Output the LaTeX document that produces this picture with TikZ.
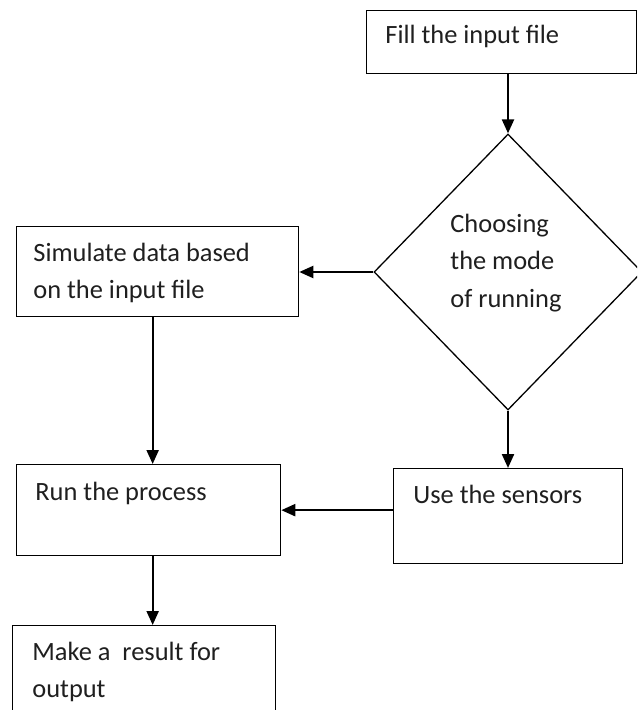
\documentclass[tikz,border=0pt]{standalone}
\usepackage{fontspec}
\setmainfont{Carlito}
\usetikzlibrary{arrows.meta,shapes.geometric}

\tikzset{
  box/.style={draw, rectangle, anchor=north west, inner sep=0pt, line width=0.65pt},
  decide/.style={draw, diamond, inner sep=0pt, line width=0.65pt},
  txt/.style={anchor=base west, inner sep=0pt, align=left, font=\fontsize{13.2}{18.5}\selectfont, text=black!88},
  flow/.style={-{Triangle[length=7pt,width=6pt]}, line width=1.1pt}
}

\begin{document}
\begin{tikzpicture}[x=0.5pt,y=-0.5pt]
\clip (0,0) rectangle (637,710);
\fill[white] (0,0) rectangle (637,710);
     \node[box, minimum width=135pt, minimum height=31.5pt] (fill) at (366,10) {};
     \node[decide, minimum width=134pt, minimum height=138pt] (choose) at (508,272) {};
     \node[box, minimum width=141pt, minimum height=45pt] (sim) at (16,226) {};
     \node[box, minimum width=132pt, minimum height=45.5pt] (run) at (16,464) {};
     \node[box, minimum width=114.5pt, minimum height=47.5pt] (sensors) at (393,468) {};
     \node[box, minimum width=131.5pt, minimum height=55pt] (result) at (12,625) {};

     % base of a multi-line node is its last line
     \node[txt] (fillt) at (385,44) {Fill the input file};
     \node[txt] (chooset) at (450,307) {Choosing\\the mode\\of running};
     \node[txt] (simt) at (33,299) {Simulate data based\\on the input file};
     \node[txt] (runt) at (35,500) {Run the process};
     \node[txt] (sensorst) at (413,503) {Use the sensors};
     \node[txt] (resultt) at (32,697) {Make a\ \ result for\\output};

     \draw[flow] (fill.south -| choose.north) -- (choose.north);
     \draw[flow] (choose.west) -- (choose.west -| sim.east);
     \draw[flow] ([xshift=-2.5pt]sim.south) -- ([xshift=-2.5pt]sim.south |- run.north);
     \draw[flow] (choose.south) -- (choose.south |- sensors.north);
     \draw[flow] (sensors.west |- run.east) -- (run.east);
     \draw[flow] ([xshift=2pt]run.south) -- ([xshift=2pt]run.south |- result.north);
\end{tikzpicture}
\end{document}
